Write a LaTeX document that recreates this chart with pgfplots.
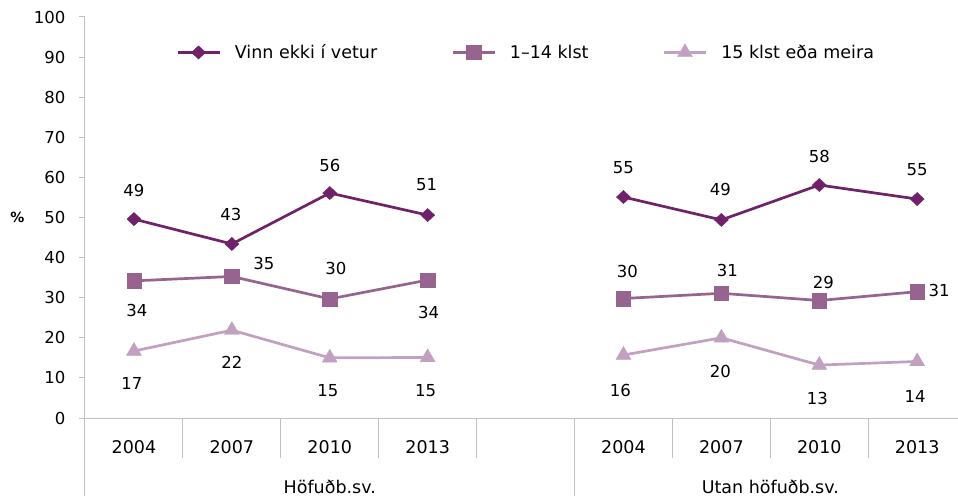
\documentclass[border=0pt]{standalone}
\usepackage{pgfplots}
\pgfplotsset{compat=1.18}
\usepackage{fontspec}
\setmainfont{DejaVu Sans}
\definecolor{c1}{HTML}{6F2269}
\definecolor{c2}{HTML}{96648F}
\definecolor{c3}{HTML}{C1A0C0}
\definecolor{axgray}{HTML}{BFBFBF}
\newcommand\fsA{\fontsize{17.5}{20}\selectfont}
\newcommand\fsB{\fontsize{16.5}{19}\selectfont}

\pgfplotstableread{
x y lab dx dy
0 49.6 49 0 29
1 43.4 43 -1 29
2 56.1 56 0 28
3 50.6 51 -1 30
}\sAL
\pgfplotstableread{
x y lab dx dy
5 55.1 55 0 29
6 49.4 49 -1 30
7 58.1 58 0 29
8 54.6 55 0 29
}\sAR
\pgfplotstableread{
x y lab dx dy
0 34.2 34 3 -30
1 35.3 35 32 13
2 29.7 30 6 30
3 34.4 34 1 -32
}\sBL
\pgfplotstableread{
x y lab dx dy
5 29.8 30 4 27
6 31.1 31 6 23
7 29.3 29 4 18
8 31.5 31 22 1
}\sBR
\pgfplotstableread{
x y lab dx dy
0 16.7 17 -2 -32
1 21.9 22 0 -32
2 15.0 15 -2 -33
3 15.1 15 -2 -33
}\sCL
\pgfplotstableread{
x y lab dx dy
5 15.7 16 -3 -35
6 20.0 20 -1 -34
7 13.2 13 -2 -33
8 14.1 14 -2 -35
}\sCR

\pgfplotsset{
  lbl/.style={
    nodes near coords,
    point meta=explicit symbolic,
    visualization depends on={\thisrow{dx}\as\dx},
    visualization depends on={\thisrow{dy}\as\dy},
    every node near coord/.append style={anchor=center, xshift=\dx pt, yshift=\dy pt, font=\fsB, text=black, inner sep=0pt},
  },
  sA/.style={c1, line width=2.7pt, mark=diamond*, mark size=6.6pt, mark options={xscale=1.42, line width=0.4pt}},
  sB/.style={c2, line width=2.7pt, mark=square*, mark size=7.2pt, mark options={line width=0.4pt}},
  sC/.style={c3, line width=2.7pt, mark=triangle*, mark size=8.6pt, mark options={line width=0.4pt}},
}

\begin{document}
\begin{tikzpicture}
\begin{axis}[
  name=ax,
  scale only axis, width=873pt, height=401pt,
  xmin=-0.5, xmax=8.417, ymin=0, ymax=100,
  axis lines*=left,
  axis line style={axgray, line width=1pt},
  clip=false,
  ytick={0,10,...,100},
  tick align=outside, major tick length=6pt,
  major y tick style={axgray, line width=1pt},
  xtick={0,1,2,3,5,6,7,8},
  xticklabels={2004,2007,2010,2013,2004,2007,2010,2013},
  major x tick style={draw=none},
  minor xtick={0.5,1.5,2.5,3.5,4.5,5.5,6.5,7.5},
  minor tick length=40pt,
  minor x tick style={axgray, line width=1pt},
  /pgf/number format/assume math mode=true,
  yticklabel style={font=\fsB, text=black, xshift=-10pt},
  xticklabel style={font=\fsA, text=black, anchor=center, yshift=-23pt},
  ylabel={\%},
  ylabel style={rotate=-90, font=\bfseries\fontsize{14}{16}\selectfont, at={(rel axis cs:0,0.5)}, anchor=center, xshift=-67.5pt},
  legend columns=3,
  legend style={draw=none, fill=none, inner sep=0pt, at={(rel axis cs:0.1042,0.9127)}, anchor=west,
    font=\fsA, nodes={inner sep=0pt, anchor=west},
    /tikz/every odd column/.append style={column sep=14pt},
    /tikz/every even column/.append style={column sep=74pt}},
  legend cell align=left,
  legend image code/.code={\draw[mark repeat=2, mark phase=2, #1] plot coordinates {(0pt,0pt) (21pt,0pt) (42pt,0pt)};},
]
\addplot[sA, lbl] table[x=x,y=y,meta=lab]{\sAL};
\addlegendentry{Vinn ekki í vetur}
\addplot[sB, lbl] table[x=x,y=y,meta=lab]{\sBL};
\addlegendentry{1–14 klst}
\addplot[sC, lbl] table[x=x,y=y,meta=lab]{\sCL};
\addlegendentry{15 klst eða meira}
\addplot[sA, lbl, forget plot] table[x=x,y=y,meta=lab]{\sAR};
\addplot[sB, lbl, forget plot] table[x=x,y=y,meta=lab]{\sBR};
\addplot[sC, lbl, forget plot] table[x=x,y=y,meta=lab]{\sCR};
\draw[axgray, line width=1pt] (axis cs:-0.5,0) -- ([yshift=-78pt]axis cs:-0.5,0);
\draw[axgray, line width=1pt] (axis cs:4.5,0) -- ([yshift=-78pt]axis cs:4.5,0);
\node[font=\fsA, text=black, anchor=center] at ([yshift=-69pt]axis cs:2,0) {Höfuðb.sv.};
\node[font=\fsA, text=black, anchor=center] at ([yshift=-69pt]axis cs:6.5,0) {Utan höfuðb.sv.};
\end{axis}
\pgfresetboundingbox
\path ([shift={(-85pt,-78pt)}]ax.south west) rectangle ([shift={(873pt,418pt)}]ax.south west);
\end{tikzpicture}
\end{document}
